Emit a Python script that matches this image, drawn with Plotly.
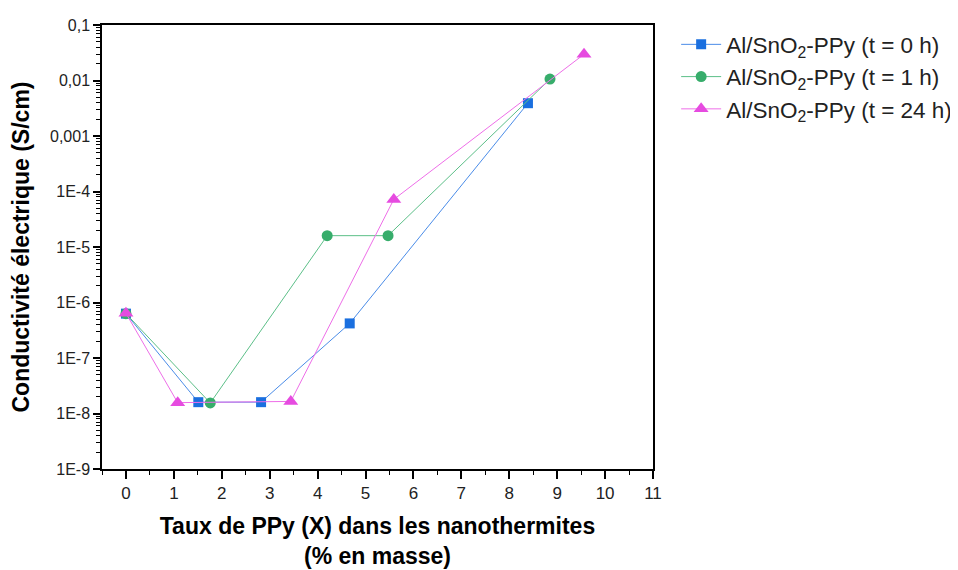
import plotly.graph_objects as go

# Data
x_t0 = [0, 1.51, 2.82, 4.67, 8.39]
y_t0 = [6.3e-7, 1.6e-8, 1.6e-8, 4.2e-7, 3.9e-3]

x_t1 = [0, 1.76, 4.20, 5.47, 8.85]
y_t1 = [6.3e-7, 1.55e-8, 1.6e-5, 1.6e-5, 1.06e-2]

x_t24 = [0, 1.08, 3.44, 5.59, 9.56]
y_t24 = [6.4e-7, 1.57e-8, 1.65e-8, 7.2e-5, 2.97e-2]

names = ["Al/SnO<sub>2</sub>-PPy (t = 0 h)",
         "Al/SnO<sub>2</sub>-PPy (t = 1 h)",
         "Al/SnO<sub>2</sub>-PPy (t = 24 h)"]

y_tickvals = [1e-9, 1e-8, 1e-7, 1e-6, 1e-5, 1e-4, 1e-3, 1e-2, 1e-1]
y_ticktext = ["1E-9", "1E-8", "1E-7", "1E-6", "1E-5", "1E-4", "0,001", "0,01", "0,1"]
x_tickvals = list(range(0, 12))

FONT = "Liberation Sans, Arial, sans-serif"

fig = go.Figure()
series = [
    (x_t0, y_t0, names[0], "#1a6fdf", "#4a8ce8", "square", 10, "g0"),
    (x_t1, y_t1, names[1], "#37ad6b", "#5cbf88", "circle", 11, "g1"),
    (x_t24, y_t24, names[2], "#e64be0", "#ee6ee8", "triangle-up", 13, "g2"),
]
for xs, ys, nm, col, lcol, sym, sz, grp in series:
    fig.add_trace(go.Scatter(
        x=xs, y=ys, name=nm, mode="lines+markers", legendgroup=grp,
        line=dict(color=lcol, width=1),
        marker=dict(symbol=sym, size=sz, color=col, line=dict(width=0)),
    ))

fig.update_layout(
    width=966, height=570,
    margin=dict(l=94, r=321, t=17, b=109),
    paper_bgcolor="white", plot_bgcolor="white",
    font=dict(family=FONT, size=16, color="#222"),
    showlegend=True,
    legend=dict(x=1.042, y=1.004, xanchor="left", yanchor="top",
                font=dict(family=FONT, size=22.5, color="#222"),
                bgcolor="rgba(0,0,0,0)", itemwidth=40, tracegroupgap=0),
)
fig.update_xaxes(
    range=[-0.5, 11], tickvals=x_tickvals, ticktext=[str(v) for v in x_tickvals],
    ticks="outside", ticklen=8, tickwidth=1.5, tickcolor="black",
    showline=True, linecolor="black", linewidth=1.5, mirror=True,
    showgrid=False, zeroline=False, automargin=False,
    minor=dict(dtick=0.5, tick0=0, ticks="outside", ticklen=4, tickwidth=1.2, tickcolor="black"),
    tickfont=dict(size=17, family=FONT, color="#222"),
    title=dict(text="<b>Taux de PPy (X) dans les nanothermites<br>(% en masse)</b>",
               font=dict(size=23, family=FONT, color="black"), standoff=16),
)
fig.update_yaxes(
    type="log", range=[-9, -1], tickvals=y_tickvals, ticktext=y_ticktext,
    ticks="outside", ticklen=7, tickwidth=1.5, tickcolor="black",
    showline=True, linecolor="black", linewidth=1.5, mirror=True,
    showgrid=False, zeroline=False, automargin=False,
    minor=dict(dtick="D1", ticks="outside", ticklen=4, tickwidth=1, tickcolor="black"),
    tickfont=dict(size=16, family=FONT, color="#222"),
    title=dict(text="<b>Conductivité électrique (S/cm)</b>",
               font=dict(size=23, family=FONT, color="black"), standoff=14),
)

fig.write_html("out.html")
